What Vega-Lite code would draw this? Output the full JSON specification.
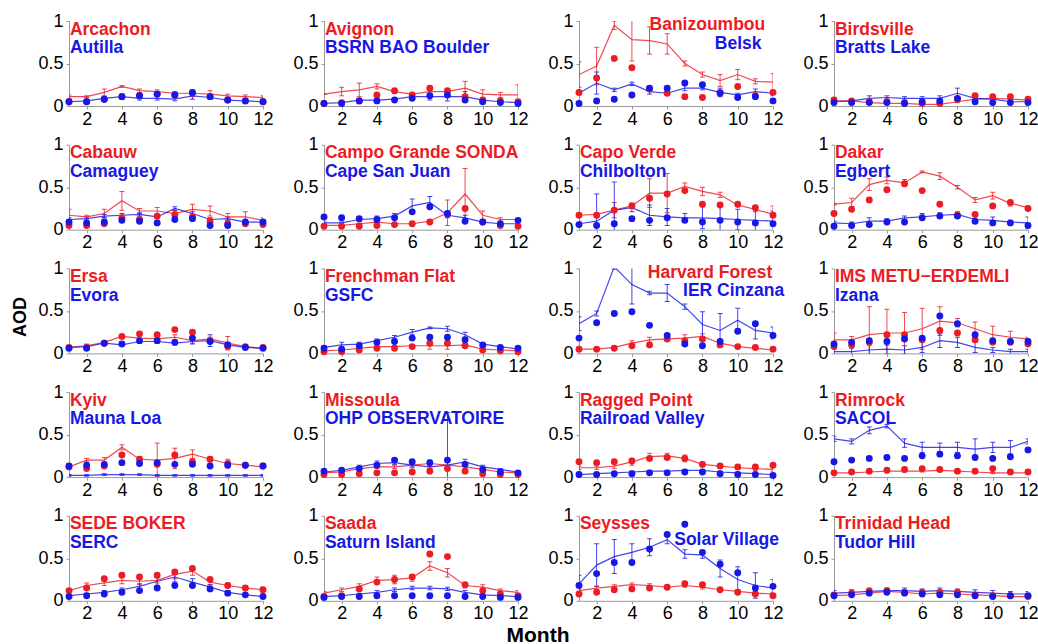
{
  "$schema": "https://vega.github.io/schema/vega-lite/v6.json",
  "background": "white",
  "padding": {"left": 12, "top": 12, "right": 5, "bottom": 1},
  "config": {
    "font": "Liberation Sans",
    "view": {"stroke": null},
    "axis": {"grid": false, "labelFont": "Liberation Sans", "labelFontSize": 18, "labelColor": "black", "domainColor": "#9a9a9a", "tickColor": "#9a9a9a", "tickSize": 3}
  },
  "data": {"values": [
    {"p":1,"s":"r","name":"Arcachon","m":[1,2,3,4,5,6,7,8,9,10,11,12],"obs":[0.11,0.11,0.16,0.23,0.18,0.17,0.15,0.15,0.14,0.12,0.11,0.10],"sd":[0.02,0.01,0.04,0.01,0.02,0.02,0.02,0.04,0.04,0.02,0.02,0.02],"mod":[0.05,0.05,0.08,0.11,0.12,0.14,0.13,0.15,0.11,0.07,0.06,0.05]},
    {"p":1,"s":"b","name":"Autilla","m":[1,2,3,4,5,6,7,8,9,10,11,12],"obs":[0.05,0.06,0.09,0.11,0.09,0.09,0.08,0.12,0.10,0.07,0.06,0.05],"sd":[0.02,0.02,0.02,0.03,0.02,0.02,0.02,0.04,0.02,0.02,0.02,0.01],"mod":[0.05,0.05,0.08,0.11,0.12,0.14,0.13,0.16,0.11,0.07,0.06,0.05]},
    {"p":2,"s":"r","name":"Avignon","m":[1,2,3,4,5,6,7,8,9,10,11,12],"obs":[0.14,0.17,0.19,0.23,0.17,0.14,0.17,0.17,0.21,0.14,0.13,0.13],"sd":[0.0,0.05,0.08,0.03,0.02,0.02,0.03,0.03,0.08,0.05,0.03,0.12],"mod":[0.03,0.04,0.06,0.13,0.18,0.13,0.21,0.18,0.11,0.07,0.06,0.05]},
    {"p":2,"s":"b","name":"BSRN BAO Boulder","m":[1,2,3,4,5,6,7,8,9,10,11,12],"obs":[0.03,0.04,0.07,0.07,0.08,0.11,0.11,0.11,0.11,0.07,0.05,0.04],"sd":[0.01,0.02,0.02,0.02,0.01,0.02,0.04,0.05,0.06,0.02,0.02,0.01],"mod":[0.03,0.03,0.06,0.06,0.07,0.09,0.12,0.13,0.07,0.05,0.04,0.03]},
    {"p":3,"s":"r","name":"Banizoumbou","m":[1,2,3,4,5,6,7,8,9,10,11,12],"obs":[0.37,0.47,0.95,0.78,0.77,0.73,0.50,0.37,0.30,0.37,0.29,0.28],"sd":[0.15,0.22,0.05,0.25,0.16,0.12,0.03,0.03,0.07,0.06,0.03,0.10],"mod":[0.16,0.33,0.56,0.45,0.20,0.15,0.11,0.10,0.16,0.23,0.12,0.16]},
    {"p":3,"s":"b","name":"Belsk","m":[1,2,3,4,5,6,7,8,9,10,11,12],"obs":[0.15,0.27,0.19,0.26,0.17,0.15,0.21,0.21,0.16,0.13,0.17,0.15],"sd":[0.02,0.13,0.02,0.02,0.03,0.02,0.03,0.02,0.05,0.02,0.03,0.03],"mod":[0.03,0.06,0.08,0.13,0.21,0.21,0.27,0.25,0.15,0.10,0.11,0.06]},
    {"p":4,"s":"r","name":"Birdsville","m":[1,2,3,4,5,6,7,8,9,10,11,12],"obs":[0.06,0.06,0.04,0.03,0.03,0.02,0.02,0.05,0.08,0.09,0.08,0.07],"sd":[0.01,0.01,0.01,0.01,0.01,0.01,0.01,0.01,0.02,0.01,0.02,0.01],"mod":[0.07,0.06,0.05,0.05,0.04,0.03,0.03,0.08,0.12,0.11,0.11,0.08]},
    {"p":4,"s":"b","name":"Bratts Lake","m":[1,2,3,4,5,6,7,8,9,10,11,12],"obs":[0.05,0.06,0.09,0.10,0.09,0.09,0.09,0.15,0.09,0.08,0.05,0.05],"sd":[0.02,0.02,0.03,0.02,0.02,0.02,0.03,0.06,0.02,0.02,0.02,0.02],"mod":[0.04,0.04,0.04,0.04,0.03,0.05,0.06,0.09,0.05,0.04,0.04,0.04]},
    {"p":5,"s":"r","name":"Cabauw","m":[1,2,3,4,5,6,7,8,9,10,11,12],"obs":[0.17,0.15,0.19,0.34,0.22,0.22,0.19,0.24,0.22,0.15,0.15,0.11],"sd":[0.07,0.02,0.05,0.11,0.03,0.04,0.04,0.06,0.06,0.04,0.06,0.03],"mod":[0.05,0.05,0.07,0.14,0.12,0.16,0.18,0.15,0.10,0.07,0.07,0.06]},
    {"p":5,"s":"b","name":"Camaguey","m":[1,2,3,4,5,6,7,8,9,10,11,12],"obs":[0.12,0.13,0.16,0.17,0.18,0.15,0.25,0.19,0.12,0.13,0.09,0.09],"sd":[0.02,0.02,0.02,0.02,0.02,0.02,0.02,0.02,0.02,0.02,0.02,0.02],"mod":[0.09,0.08,0.09,0.11,0.10,0.08,0.12,0.13,0.05,0.05,0.09,0.09]},
    {"p":6,"s":"r","name":"Campo Grande SONDA","m":[1,2,3,4,5,6,7,8,9,10,11,12],"obs":[0.05,0.05,0.07,0.09,0.07,0.07,0.10,0.20,0.42,0.17,0.12,0.12],"sd":[0.01,0.01,0.01,0.01,0.01,0.01,0.01,0.15,0.30,0.05,0.02,0.01],"mod":[0.04,0.04,0.04,0.05,0.06,0.07,0.09,0.18,0.25,0.09,0.05,0.04]},
    {"p":6,"s":"b","name":"Cape San Juan","m":[1,2,3,4,5,6,7,8,9,10,11,12],"obs":[0.08,0.08,0.12,0.13,0.16,0.28,0.32,0.17,0.14,0.09,0.07,0.07],"sd":[0.01,0.01,0.02,0.03,0.03,0.08,0.07,0.03,0.03,0.01,0.01,0.01],"mod":[0.15,0.14,0.13,0.12,0.14,0.21,0.27,0.19,0.10,0.09,0.07,0.11]},
    {"p":7,"s":"r","name":"Capo Verde","m":[1,2,3,4,5,6,7,8,9,10,11,12],"obs":[0.17,0.18,0.23,0.28,0.43,0.43,0.51,0.45,0.41,0.29,0.24,0.18],"sd":[0.0,0.02,0.09,0.03,0.17,0.23,0.04,0.05,0.03,0.02,0.03,0.10],"mod":[0.17,0.17,0.23,0.28,0.37,0.42,0.46,0.30,0.29,0.30,0.26,0.17]},
    {"p":7,"s":"b","name":"Chilbolton","m":[1,2,3,4,5,6,7,8,9,10,11,12],"obs":[0.07,0.10,0.23,0.26,0.17,0.15,0.14,0.14,0.13,0.12,0.11,0.10],"sd":[0.03,0.32,0.33,0.05,0.12,0.10,0.05,0.13,0.15,0.12,0.12,0.12],"mod":[0.06,0.05,0.07,0.13,0.11,0.14,0.11,0.09,0.11,0.09,0.08,0.07]},
    {"p":8,"s":"r","name":"Dakar","m":[1,2,3,4,5,6,7,8,9,10,11,12],"obs":[0.30,0.32,0.53,0.58,0.55,0.68,0.63,0.50,0.35,0.40,0.31,0.26],"sd":[0.01,0.05,0.07,0.04,0.04,0.01,0.04,0.02,0.03,0.04,0.03,0.02],"mod":[0.19,0.24,0.35,0.47,0.54,0.46,0.30,0.17,0.18,0.28,0.32,0.25]},
    {"p":8,"s":"b","name":"Egbert","m":[1,2,3,4,5,6,7,8,9,10,11,12],"obs":[0.08,0.07,0.10,0.10,0.14,0.15,0.17,0.18,0.12,0.11,0.09,0.08],"sd":[0.02,0.02,0.04,0.03,0.02,0.04,0.03,0.03,0.04,0.04,0.02,0.07],"mod":[0.04,0.05,0.06,0.09,0.09,0.14,0.16,0.16,0.10,0.08,0.08,0.05]},
    {"p":9,"s":"r","name":"Ersa","m":[1,2,3,4,5,6,7,8,9,10,11,12],"obs":[0.07,0.09,0.13,0.20,0.18,0.17,0.19,0.15,0.17,0.12,0.08,0.06],"sd":[0.01,0.02,0.02,0.02,0.02,0.02,0.03,0.03,0.02,0.08,0.02,0.01],"mod":[0.07,0.07,0.12,0.20,0.23,0.22,0.28,0.25,0.15,0.08,0.08,0.07]},
    {"p":9,"s":"b","name":"Evora","m":[1,2,3,4,5,6,7,8,9,10,11,12],"obs":[0.07,0.08,0.12,0.10,0.14,0.14,0.12,0.14,0.15,0.10,0.07,0.06],"sd":[0.01,0.02,0.01,0.01,0.02,0.02,0.02,0.03,0.07,0.03,0.01,0.01],"mod":[0.06,0.06,0.12,0.11,0.15,0.15,0.13,0.18,0.14,0.10,0.07,0.06]},
    {"p":10,"s":"r","name":"Frenchman Flat","m":[1,2,3,4,5,6,7,8,9,10,11,12],"obs":[0.03,0.04,0.06,0.08,0.08,0.09,0.09,0.09,0.10,0.05,0.04,0.03],"sd":[0.01,0.01,0.01,0.01,0.01,0.01,0.04,0.04,0.02,0.01,0.01,0.01],"mod":[0.02,0.02,0.04,0.06,0.06,0.08,0.12,0.12,0.09,0.04,0.03,0.02]},
    {"p":10,"s":"b","name":"GSFC","m":[1,2,3,4,5,6,7,8,9,10,11,12],"obs":[0.07,0.10,0.11,0.15,0.19,0.25,0.30,0.29,0.22,0.11,0.08,0.05],"sd":[0.02,0.03,0.02,0.02,0.02,0.03,0.01,0.03,0.03,0.01,0.01,0.01],"mod":[0.06,0.05,0.09,0.13,0.14,0.18,0.19,0.19,0.16,0.10,0.07,0.06]},
    {"p":11,"s":"r","name":"Harvard Forest","m":[1,2,3,4,5,6,7,8,9,10,11,12],"obs":[0.05,0.05,0.07,0.12,0.16,0.17,0.18,0.20,0.12,0.08,0.06,0.04],"sd":[0.01,0.01,0.01,0.03,0.03,0.02,0.04,0.03,0.02,0.01,0.01,0.01],"mod":[0.05,0.05,0.06,0.09,0.10,0.17,0.15,0.17,0.10,0.08,0.07,0.05]},
    {"p":11,"s":"b","name":"IER Cinzana","m":[1,2,3,4,5,6,7,8,9,10,11,12],"obs":[0.35,0.47,1.02,0.81,0.71,0.71,0.55,0.34,0.27,0.39,0.27,0.24],"sd":[0.08,0.03,0.03,0.23,0.02,0.10,0.03,0.15,0.20,0.14,0.10,0.07],"mod":[0.18,0.36,0.47,0.49,0.33,0.21,0.11,0.09,0.14,0.26,0.35,0.21]},
    {"p":12,"s":"r","name":"IMS METU−ERDEMLI","m":[1,2,3,4,5,6,7,8,9,10,11,12],"obs":[0.16,0.16,0.22,0.24,0.24,0.29,0.38,0.36,0.29,0.22,0.19,0.17],"sd":[0.08,0.04,0.33,0.28,0.24,0.24,0.17,0.05,0.08,0.10,0.07,0.02],"mod":[0.08,0.10,0.13,0.22,0.22,0.16,0.27,0.24,0.16,0.13,0.13,0.11]},
    {"p":12,"s":"b","name":"Izana","m":[1,2,3,4,5,6,7,8,9,10,11,12],"obs":[0.02,0.02,0.04,0.05,0.04,0.07,0.15,0.13,0.07,0.04,0.02,0.02],"sd":[0.03,0.04,0.06,0.05,0.05,0.06,0.08,0.06,0.06,0.03,0.03,0.03],"mod":[0.11,0.13,0.15,0.14,0.17,0.18,0.44,0.35,0.22,0.15,0.14,0.14]},
    {"p":13,"s":"r","name":"Kyiv","m":[1,2,3,4,5,6,7,8,9,10,11,12],"obs":[0.12,0.20,0.20,0.35,0.21,0.20,0.22,0.27,0.21,0.16,0.14,0.12],"sd":[0.02,0.02,0.03,0.03,0.03,0.20,0.12,0.05,0.03,0.05,0.02,0.02],"mod":[0.12,0.10,0.13,0.26,0.21,0.15,0.26,0.18,0.21,0.16,0.14,0.13]},
    {"p":13,"s":"b","name":"Mauna Loa","m":[1,2,3,4,5,6,7,8,9,10,11,12],"obs":[0.02,0.02,0.03,0.03,0.03,0.02,0.02,0.02,0.02,0.02,0.02,0.02],"sd":[0.01,0.01,0.01,0.01,0.01,0.01,0.01,0.01,0.01,0.01,0.01,0.01],"mod":[0.13,0.14,0.15,0.17,0.16,0.17,0.15,0.15,0.13,0.14,0.14,0.13]},
    {"p":14,"s":"r","name":"Missoula","m":[1,2,3,4,5,6,7,8,9,10,11,12],"obs":[0.05,0.06,0.10,0.12,0.12,0.14,0.16,0.14,0.12,0.09,0.06,0.05],"sd":[0.01,0.01,0.02,0.02,0.02,0.03,0.04,0.03,0.02,0.01,0.01,0.01],"mod":[0.03,0.03,0.04,0.05,0.05,0.06,0.07,0.10,0.07,0.04,0.03,0.03]},
    {"p":14,"s":"b","name":"OHP OBSERVATOIRE","m":[1,2,3,4,5,6,7,8,9,10,11,12],"obs":[0.06,0.08,0.12,0.16,0.17,0.14,0.12,0.14,0.18,0.12,0.09,0.06],"sd":[0.01,0.02,0.02,0.03,0.02,0.02,0.02,0.62,0.03,0.02,0.01,0.01],"mod":[0.07,0.08,0.10,0.14,0.20,0.18,0.17,0.20,0.15,0.09,0.06,0.05]},
    {"p":15,"s":"r","name":"Ragged Point","m":[1,2,3,4,5,6,7,8,9,10,11,12],"obs":[0.11,0.11,0.13,0.18,0.24,0.25,0.22,0.15,0.13,0.11,0.10,0.09],"sd":[0.02,0.02,0.03,0.04,0.04,0.03,0.04,0.03,0.02,0.02,0.02,0.02],"mod":[0.18,0.17,0.18,0.19,0.22,0.23,0.22,0.15,0.13,0.12,0.12,0.14]},
    {"p":15,"s":"b","name":"Railroad Valley","m":[1,2,3,4,5,6,7,8,9,10,11,12],"obs":[0.03,0.04,0.05,0.06,0.07,0.07,0.08,0.08,0.06,0.05,0.04,0.03],"sd":[0.01,0.01,0.01,0.01,0.01,0.01,0.01,0.01,0.01,0.01,0.01,0.01],"mod":[0.03,0.03,0.04,0.04,0.05,0.05,0.06,0.06,0.04,0.03,0.03,0.02]},
    {"p":16,"s":"r","name":"Rimrock","m":[1,2,3,4,5,6,7,8,9,10,11,12],"obs":[0.05,0.05,0.06,0.07,0.07,0.07,0.08,0.07,0.06,0.05,0.05,0.05],"sd":[0.01,0.01,0.01,0.01,0.01,0.01,0.01,0.01,0.01,0.01,0.01,0.01],"mod":[0.05,0.06,0.07,0.08,0.09,0.10,0.09,0.07,0.07,0.10,0.06,0.06]},
    {"p":16,"s":"b","name":"SACOL","m":[1,2,3,4,5,6,7,8,9,10,11,12],"obs":[0.45,0.42,0.55,0.60,0.40,0.35,0.35,0.35,0.33,0.35,0.35,0.42],"sd":[0.03,0.03,0.04,0.02,0.05,0.06,0.05,0.06,0.12,0.06,0.08,0.03],"mod":[0.18,0.20,0.22,0.23,0.22,0.25,0.27,0.25,0.23,0.22,0.24,0.32]},
    {"p":17,"s":"r","name":"SEDE BOKER","m":[1,2,3,4,5,6,7,8,9,10,11,12],"obs":[0.12,0.18,0.21,0.24,0.23,0.24,0.31,0.35,0.22,0.18,0.15,0.13],"sd":[0.02,0.03,0.03,0.04,0.04,0.03,0.05,0.05,0.03,0.03,0.03,0.03],"mod":[0.12,0.15,0.26,0.30,0.28,0.30,0.34,0.38,0.25,0.18,0.15,0.13]},
    {"p":17,"s":"b","name":"SERC","m":[1,2,3,4,5,6,7,8,9,10,11,12],"obs":[0.06,0.08,0.10,0.13,0.17,0.23,0.28,0.22,0.16,0.10,0.07,0.05],"sd":[0.01,0.01,0.02,0.02,0.03,0.05,0.06,0.04,0.03,0.02,0.01,0.01],"mod":[0.05,0.06,0.08,0.10,0.12,0.15,0.18,0.18,0.14,0.09,0.07,0.05]},
    {"p":18,"s":"r","name":"Saada","m":[1,2,3,4,5,6,7,8,9,10,11,12],"obs":[0.09,0.13,0.17,0.24,0.25,0.27,0.41,0.33,0.18,0.16,0.12,0.10],"sd":[0.02,0.02,0.03,0.04,0.05,0.04,0.05,0.05,0.03,0.03,0.02,0.02],"mod":[0.05,0.06,0.14,0.22,0.25,0.28,0.55,0.52,0.19,0.12,0.08,0.06]},
    {"p":18,"s":"b","name":"Saturn Island","m":[1,2,3,4,5,6,7,8,9,10,11,12],"obs":[0.05,0.06,0.08,0.10,0.13,0.15,0.15,0.14,0.10,0.07,0.06,0.05],"sd":[0.01,0.01,0.01,0.02,0.02,0.02,0.02,0.02,0.02,0.01,0.01,0.01],"mod":[0.04,0.05,0.05,0.06,0.06,0.06,0.06,0.06,0.05,0.05,0.04,0.04]},
    {"p":19,"s":"r","name":"Seysses","m":[1,2,3,4,5,6,7,8,9,10,11,12],"obs":[0.12,0.15,0.17,0.19,0.18,0.16,0.18,0.16,0.13,0.11,0.09,0.08],"sd":[0.02,0.02,0.02,0.02,0.02,0.02,0.02,0.02,0.02,0.02,0.02,0.02],"mod":[0.08,0.10,0.13,0.14,0.15,0.16,0.20,0.19,0.13,0.10,0.08,0.06]},
    {"p":19,"s":"b","name":"Solar Village","m":[1,2,3,4,5,6,7,8,9,10,11,12],"obs":[0.20,0.42,0.52,0.57,0.63,0.72,0.55,0.54,0.38,0.25,0.18,0.15],"sd":[0.10,0.25,0.20,0.10,0.10,0.05,0.05,0.04,0.10,0.15,0.15,0.10],"mod":[0.18,0.32,0.45,0.45,0.61,0.78,0.90,0.57,0.43,0.33,0.15,0.17]},
    {"p":20,"s":"r","name":"Trinidad Head","m":[1,2,3,4,5,6,7,8,9,10,11,12],"obs":[0.06,0.07,0.09,0.11,0.10,0.08,0.09,0.08,0.07,0.06,0.05,0.05],"sd":[0.01,0.01,0.02,0.02,0.02,0.01,0.02,0.01,0.01,0.01,0.01,0.01],"mod":[0.07,0.09,0.12,0.12,0.10,0.10,0.10,0.10,0.07,0.06,0.06,0.05]},
    {"p":20,"s":"b","name":"Tudor Hill","m":[1,2,3,4,5,6,7,8,9,10,11,12],"obs":[0.09,0.10,0.11,0.12,0.12,0.11,0.12,0.11,0.10,0.09,0.08,0.08],"sd":[0.03,0.03,0.03,0.03,0.03,0.03,0.03,0.03,0.03,0.03,0.03,0.03],"mod":[0.06,0.07,0.09,0.10,0.09,0.08,0.07,0.07,0.06,0.05,0.06,0.06]}
  ]},
  "transform": [
    {"flatten": ["m", "obs", "sd", "mod"]},
    {"calculate": "floor((datum.p - 1) / 4)", "as": "row"},
    {"calculate": "(datum.p - 1) % 4", "as": "col"}
  ],
  "facet": {
    "row": {"field": "row", "type": "ordinal", "title": "AOD",
      "header": {"labels": false, "titleFont": "Liberation Sans", "titleFontSize": 18, "titleFontWeight": "bold", "titleColor": "black", "titlePadding": 29}},
    "column": {"field": "col", "type": "ordinal", "title": "Month",
      "header": {"labels": false, "titleOrient": "bottom", "titleFont": "Liberation Sans", "titleFontSize": 21, "titleFontWeight": "bold", "titleColor": "black", "titlePadding": 14}}
  },
  "spacing": {"row": 38.7, "column": 61},
  "bounds": "flush",
  "resolve": {"axis": {"x": "independent", "y": "independent"}},
  "spec": {
    "width": 194,
    "height": 85,
    "encoding": {
      "x": {"field": "m", "type": "quantitative", "scale": {"domain": [1, 12], "nice": false},
        "axis": {"title": null, "values": [2, 4, 6, 8, 10, 12], "labelFlush": false, "labelPadding": 1}},
      "color": {"field": "s", "type": "nominal", "scale": {"domain": ["r", "b"], "range": ["#ec1c24", "#1717e6"]}, "legend": null}
    },
    "layer": [
      {
        "mark": {"type": "errorbar", "ticks": true, "clip": true, "thickness": 1, "opacity": 0.8},
        "encoding": {
          "y": {"field": "obs", "type": "quantitative", "scale": {"domain": [0, 1], "nice": false},
            "axis": {"title": null, "values": [0, 0.5, 1], "format": "~g", "labelPadding": 3}},
          "yError": {"field": "sd"}
        }
      },
      {
        "mark": {"type": "line", "clip": true, "strokeWidth": 1.2, "opacity": 0.8},
        "encoding": {"y": {"field": "obs", "type": "quantitative", "axis": {"title": null}}}
      },
      {
        "mark": {"type": "circle", "size": 48, "opacity": 1},
        "encoding": {"y": {"field": "mod", "type": "quantitative", "axis": {"title": null}}}
      },
      {
        "transform": [{"filter": "datum.m == 1 && datum.s == 'r' && datum.p != 3 && datum.p != 11"}],
        "mark": {"type": "text", "align": "left", "baseline": "middle", "fontSize": 17.5, "fontWeight": "bold"},
        "encoding": {"x": {"datum": 1.05}, "y": {"datum": 0.9}, "text": {"field": "name"}}
      },
      {
        "transform": [{"filter": "datum.m == 1 && datum.s == 'b' && datum.p != 3 && datum.p != 11 && datum.p != 19"}],
        "mark": {"type": "text", "align": "left", "baseline": "middle", "fontSize": 17.5, "fontWeight": "bold"},
        "encoding": {"x": {"datum": 1.05}, "y": {"datum": 0.68}, "text": {"field": "name"}}
      },
      {
        "transform": [{"filter": "datum.m == 1 && datum.p == 3 && datum.s == 'r'"}],
        "mark": {"type": "text", "align": "left", "baseline": "middle", "fontSize": 17.5, "fontWeight": "bold"},
        "encoding": {"x": {"datum": 5.0}, "y": {"datum": 0.95}, "text": {"field": "name"}}
      },
      {
        "transform": [{"filter": "datum.m == 1 && datum.p == 3 && datum.s == 'b'"}],
        "mark": {"type": "text", "align": "left", "baseline": "middle", "fontSize": 17.5, "fontWeight": "bold"},
        "encoding": {"x": {"datum": 8.7}, "y": {"datum": 0.73}, "text": {"field": "name"}}
      },
      {
        "transform": [{"filter": "datum.m == 1 && datum.p == 11 && datum.s == 'r'"}],
        "mark": {"type": "text", "align": "left", "baseline": "middle", "fontSize": 17.5, "fontWeight": "bold"},
        "encoding": {"x": {"datum": 4.9}, "y": {"datum": 0.95}, "text": {"field": "name"}}
      },
      {
        "transform": [{"filter": "datum.m == 1 && datum.p == 11 && datum.s == 'b'"}],
        "mark": {"type": "text", "align": "left", "baseline": "middle", "fontSize": 17.5, "fontWeight": "bold"},
        "encoding": {"x": {"datum": 6.9}, "y": {"datum": 0.73}, "text": {"field": "name"}}
      },
      {
        "transform": [{"filter": "datum.m == 1 && datum.p == 19 && datum.s == 'b'"}],
        "mark": {"type": "text", "align": "left", "baseline": "middle", "fontSize": 17.5, "fontWeight": "bold"},
        "encoding": {"x": {"datum": 6.4}, "y": {"datum": 0.71}, "text": {"field": "name"}}
      }
    ]
  }
}
